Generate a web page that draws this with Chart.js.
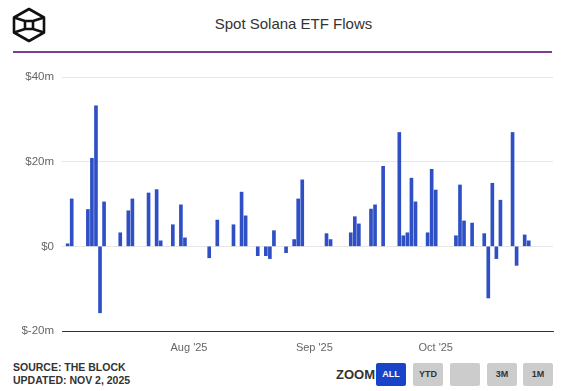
<!DOCTYPE html>
<html>
<head>
<meta charset="utf-8">
<script src="https://cdn.jsdelivr.net/npm/chart.js@4/dist/chart.umd.min.js"></script>
<style>
  html, body { margin:0; padding:0; background:#fff; }
  body { width:565px; height:391px; position:relative; overflow:hidden; font-family:"Liberation Sans", Arial, Helvetica, sans-serif; }
  #logo { position:absolute; left:12px; top:7px; }
  #title { position:absolute; left:11px; width:565px; top:15px; text-align:center; font-size:15px; color:#333; }
  #rule { position:absolute; left:13px; top:51px; width:539px; height:2px; background:#7d3c98; }
  #wrap { position:absolute; left:0; top:60px; width:565px; height:300px; }
  #src { position:absolute; left:13px; top:361px; font-size:10.5px; font-weight:bold; color:#333; line-height:13px; }
  #zoomlbl { position:absolute; left:336px; top:367px; font-size:13px; font-weight:bold; color:#333; }
  .btn { position:absolute; top:363px; height:23px; width:30px; background:#ccc; border-radius:2px; font-size:9px; font-weight:bold; color:#333; text-align:center; line-height:23px; }
  .btn.on { background:#1a44c8; color:#fff; }
</style>
</head>
<body>
<svg id="logo" width="36" height="36" viewBox="0 0 36 36">
  <g fill="none" stroke="#111" stroke-width="2.6" stroke-linejoin="round">
    <polygon points="17,2 32,10.5 32,25.5 17,34 2,25.5 2,10.5"/>
    <rect x="13" y="14" width="8" height="8" rx="1"/>
    <line x1="13" y1="14" x2="2" y2="10.5"/>
    <line x1="21" y1="14" x2="32" y2="10.5"/>
    <line x1="13" y1="22" x2="2" y2="25.5"/>
    <line x1="21" y1="22" x2="32" y2="25.5"/>
  </g>
</svg>
<div id="title">Spot Solana ETF Flows</div>
<div id="rule"></div>
<div id="wrap"><canvas id="c" width="565" height="300"></canvas></div>
<div id="src">SOURCE: THE BLOCK<br>UPDATED: NOV 2, 2025</div>
<div id="zoomlbl">ZOOM</div>
<div class="btn on" style="left:376px">ALL</div>
<div class="btn" style="left:413px">YTD</div>
<div class="btn" style="left:450px"></div>
<div class="btn" style="left:487px">3M</div>
<div class="btn" style="left:523px">1M</div>
<script>
// Trading dates and daily net flows (US$ millions)
const dates = [
  "2025-07-02","2025-07-03","2025-07-07","2025-07-08","2025-07-09","2025-07-10","2025-07-11",
  "2025-07-15","2025-07-17","2025-07-18","2025-07-22","2025-07-24","2025-07-25","2025-07-28",
  "2025-07-30","2025-07-31","2025-08-06","2025-08-08","2025-08-12","2025-08-14","2025-08-15",
  "2025-08-18","2025-08-20","2025-08-21","2025-08-22","2025-08-25","2025-08-27","2025-08-28",
  "2025-08-29","2025-09-04","2025-09-05","2025-09-10","2025-09-11","2025-09-12","2025-09-15",
  "2025-09-16","2025-09-18","2025-09-22","2025-09-23","2025-09-24","2025-09-25","2025-09-26",
  "2025-09-29","2025-09-30","2025-10-01","2025-10-06","2025-10-07","2025-10-08","2025-10-10",
  "2025-10-13","2025-10-14","2025-10-15","2025-10-16","2025-10-17","2025-10-20","2025-10-21",
  "2025-10-23","2025-10-24"
];
const flows = [
  0.6, 11.2, 8.7, 20.8, 33.2, -15.7, 10.5,
  3.2, 8.4, 11.2, 12.6, 13.4, 1.3, 5.1,
  9.8, 2.0, -2.7, 6.2, 5.1, 12.8, 7.2,
  -2.2, -2.2, -2.9, 3.7, -1.5, 1.6, 11.2,
  15.7, 3.0, 1.6, 3.2, 7.0, 5.3, 8.8,
  9.8, 18.9, 26.9, 2.5, 3.2, 16.1, 10.5,
  3.2, 18.2, 13.3, 2.5, 14.5, 6.0, 5.5,
  3.0, -12.2, 14.9, -2.9, 10.9, 26.9, -4.5,
  2.7, 1.3
];
const monthTickDates = ["2025-08-01","2025-09-01","2025-10-01"];
const monthTickLabels = ["Aug '25","Sep '25","Oct '25"];
const yTickValues = [-20, 0, 20, 40];
const yTickLabels = ["$-20m","$0","$20m","$40m"];

const DAY = 86400000;
const base = Date.UTC(2025, 6, 2);
const dayIndex = s => { const p = s.split("-").map(Number); return (Date.UTC(p[0], p[1]-1, p[2]) - base) / DAY; };
const points = dates.map((d, i) => ({ x: dayIndex(d), y: flows[i] }));
const monthTicks = monthTickDates.map(dayIndex);

new Chart(document.getElementById("c"), {
  type: "bar",
  data: { datasets: [{
    data: points,
    backgroundColor: "#2f50c5",
    borderWidth: 0,
    barThickness: 3
  }]},
  options: {
    responsive: false,
    animation: false,
    events: [],
    layout: { padding: { left: 0, right: 12, top: 17, bottom: 0 } },
    plugins: { legend: { display: false }, tooltip: { enabled: false } },
    scales: {
      x: {
        type: "linear",
        offset: false,
        min: -1.4, max: 120,
        grid: { display: false, drawTicks: false, offset: false },
        border: { display: true, color: "#333", width: 1 },
        afterBuildTicks: s => { s.ticks = monthTicks.map(v => ({ value: v })); },
        afterFit: s => { s.height = 29; },
        ticks: {
          autoSkip: false, maxRotation: 0, padding: 10,
          color: "#666", font: { size: 11, family: "'Liberation Sans', Arial, sans-serif" },
          callback: (v) => { const i = monthTicks.indexOf(v); return i >= 0 ? monthTickLabels[i] : ""; }
        }
      },
      y: {
        min: -20, max: 40,
        afterBuildTicks: s => { s.ticks = yTickValues.map(v => ({ value: v })); },
        afterFit: s => { s.width = 62; },
        grid: { color: "#e6e6e6", drawTicks: false },
        border: { display: false },
        ticks: {
          padding: 8,
          color: "#666", font: { size: 11.5, family: "'Liberation Sans', Arial, sans-serif" },
          callback: (v) => { const i = yTickValues.indexOf(v); return i >= 0 ? yTickLabels[i] : ""; }
        }
      }
    }
  }
});
</script>
</body>
</html>
